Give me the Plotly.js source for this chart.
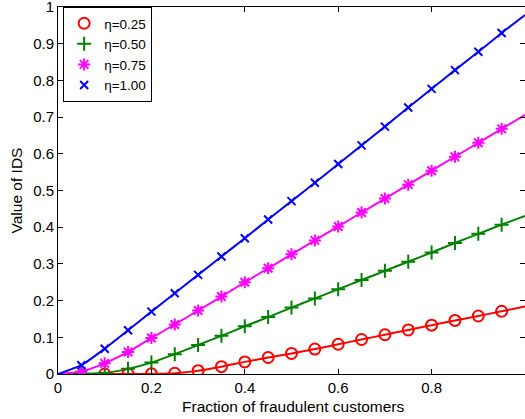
<!DOCTYPE html>
<html><head><meta charset="utf-8">
<script src="https://cdn.plot.ly/plotly-3.0.1.min.js"></script>
<style>html,body{margin:0;padding:0;background:#fff}#chart{width:525px;height:419px}</style>
</head><body><div id="chart"></div>
<script>
const fractions = [0,0.05,0.10,0.15,0.20,0.25,0.30,0.35,0.40,0.45,0.50,0.55,0.60,0.65,0.70,0.75,0.80,0.85,0.90,0.95,1.00];
const eta025 = [0,0,0,0,0.0005,0.002,0.009,0.020,0.033,0.045,0.056,0.068,0.081,0.094,0.107,0.120,0.133,0.146,0.158,0.171,0.184];
const eta050 = [0,0.001,0.003,0.014,0.031,0.054,0.079,0.104,0.130,0.155,0.181,0.206,0.231,0.256,0.281,0.306,0.331,0.357,0.382,0.407,0.431];
const eta075 = [0,0.007,0.029,0.060,0.098,0.135,0.173,0.211,0.250,0.288,0.326,0.364,0.402,0.440,0.478,0.516,0.554,0.592,0.630,0.668,0.706];
const eta100 = [0,0.024,0.069,0.119,0.170,0.220,0.270,0.320,0.370,0.421,0.471,0.521,0.572,0.623,0.674,0.726,0.777,0.828,0.878,0.929,0.978];
const seriesNames = ["η=0.25","η=0.50","η=0.75","η=1.00"];
const xTicks = [0,0.2,0.4,0.6,0.8];
const yTicks = [0,0.1,0.2,0.3,0.4,0.5,0.6,0.7,0.8,0.9,1];
const xTitle = "Fraction of fraudulent customers";
const yTitle = "Value of IDS";

const series = [
  {y: eta025, color:"#ff0000", symbol:"circle-open", size:11, start:2},
  {y: eta050, color:"#008000", symbol:"cross-thin-open", size:10, start:1},
  {y: eta075, color:"#ff00ff", symbol:"asterisk-open", size:10, start:1},
  {y: eta100, color:"#0000ff", symbol:"x-thin-open", size:8, start:1}
];
const traces = [];
series.forEach((s,i)=>{
  traces.push({x: fractions, y: s.y, mode:"lines", line:{color:s.color, width:2, shape:"spline", smoothing:0.6}, showlegend:false, hoverinfo:"skip"});
});
series.forEach((s,i)=>{
  traces.push({x: fractions.slice(s.start,20), y: s.y.slice(s.start,20), mode:"markers", name: seriesNames[i],
    marker:{symbol:s.symbol, size:s.size, color:s.color, line:{color:s.color, width:2}}});
});
const family = "Liberation Sans, Arial, sans-serif";
const tickFont = {family:family, size:15, color:"#000"};
const titleFont = {family:family, size:15.5, color:"#000"};
const layout = {
  width:525, height:419,
  margin:{l:58, r:0, t:7, b:45},
  paper_bgcolor:"#fff", plot_bgcolor:"#fff",
  font: tickFont,
  showlegend:true,
  legend:{x:0.011, y:1, xanchor:"left", yanchor:"top", bgcolor:"#fff", bordercolor:"#000", borderwidth:1,
    font:{family:family, size:13.5, color:"#000"}, tracegroupgap:0},
  xaxis:{range:[0,1], tickvals:xTicks, ticktext:xTicks.map(String), ticks:"inside", ticklen:5, tickcolor:"#000",
    showline:true, linecolor:"#000", linewidth:1, mirror:"allticks", showgrid:false, zeroline:false,
    tickfont:tickFont, ticklabeloverflow:"allow"},
  yaxis:{range:[0,1], tickvals:yTicks, ticktext:yTicks.map(String), ticks:"inside", ticklen:5, tickcolor:"#000",
    showline:true, linecolor:"#000", linewidth:1, mirror:"allticks", showgrid:false, zeroline:false,
    tickfont:tickFont, ticklabeloverflow:"allow",
    title:{text:yTitle, font:titleFont, standoff:6}},
  annotations:[{text:xTitle, xref:"paper", yref:"paper", x:0.505, y:-0.0599, xanchor:"center", yanchor:"top",
    showarrow:false, font:titleFont}]
};
Plotly.newPlot("chart", traces, layout, {staticPlot:true});
</script></body></html>
